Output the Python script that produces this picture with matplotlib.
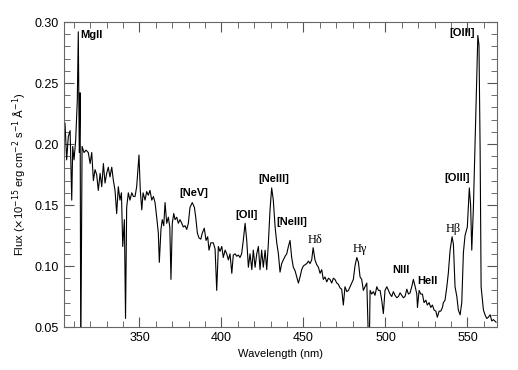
# Optical spectrum with emission line labels
import matplotlib
matplotlib.use('Agg')
import matplotlib.pyplot as plt
from matplotlib.ticker import MultipleLocator

# Wavelength (nm) and flux (1e-15 erg cm^-2 s^-1 A^-1)
wavelength = [
    304.6, 305.6, 306.6, 307.7, 308.7, 309.3, 310.1, 311.1, 312.1, 312.7,
    313.3, 313.8, 314.2, 315.0, 316.2, 317.4, 318.8, 319.9, 320.9, 321.9,
    322.9, 323.9, 324.9, 326.0, 327.0, 328.0, 329.0, 330.0, 331.0, 332.0,
    333.1, 334.1, 335.1, 336.1, 337.1, 338.1, 339.0, 339.8, 340.8, 341.5,
    342.2, 343.2, 344.2, 345.3, 346.3, 347.3, 348.3, 349.7, 350.5, 351.4,
    352.2, 353.4, 354.4, 355.4, 356.4, 357.5, 358.5, 359.5, 360.5, 361.5,
    362.1, 363.1, 363.9, 364.8, 365.6, 366.6, 367.6, 368.5, 369.2, 370.0,
    370.9, 371.7, 372.7, 373.7, 374.7, 375.8, 376.7, 377.8, 378.8, 379.8,
    380.8, 382.2, 383.5, 384.3, 385.3, 386.3, 387.4, 388.3, 389.5, 390.6,
    391.6, 392.4, 393.5, 395.0, 396.1, 397.1, 398.1, 399.1, 400.2, 401.1,
    402.2, 403.2, 404.2, 405.2, 406.3, 407.2, 408.3, 409.3, 410.3, 411.3,
    412.3, 413.3, 414.4, 415.4, 416.4, 417.4, 418.5, 419.4, 420.5, 421.5,
    422.5, 423.5, 424.5, 425.5, 426.6, 427.6, 428.6, 429.6, 430.6, 431.6,
    432.7, 433.7, 434.7, 435.7, 436.7, 437.7, 438.8, 439.8, 440.8, 441.8,
    442.8, 443.8, 444.9, 445.9, 446.9, 447.9, 448.9, 449.9, 451.0, 452.0,
    453.0, 454.0, 455.0, 455.9, 457.0, 458.1, 459.1, 460.1, 461.1, 462.1,
    463.1, 464.2, 465.2, 466.2, 467.2, 468.2, 469.2, 470.3, 471.3, 472.3,
    473.3, 474.3, 475.3, 476.4, 477.4, 478.4, 479.4, 480.4, 481.4, 482.5,
    483.5, 484.5, 485.5, 486.5, 487.5, 488.6, 490.0, 490.6, 491.6, 492.6,
    493.6, 494.7, 495.7, 496.7, 497.7, 498.7, 499.7, 500.8, 501.8, 502.8,
    503.8, 504.8, 505.8, 506.9, 507.9, 508.9, 509.9, 510.9, 511.9, 513.0,
    514.0, 515.0, 516.0, 517.0, 518.1, 519.1, 519.5, 520.5, 521.5, 522.5,
    523.5, 524.6, 525.5, 526.6, 527.6, 528.6, 529.6, 530.7, 531.6, 532.7,
    533.7, 534.7, 535.3, 536.3, 537.4, 538.3, 539.4, 540.6, 541.4, 542.4,
    543.5, 544.4, 545.5, 546.5, 547.5, 548.5, 549.9, 551.1, 551.9, 552.6,
    553.6, 555.0, 556.3, 557.0, 557.7, 558.3, 559.7, 560.7, 561.7, 562.7,
    563.8, 564.8, 565.8, 567.4,
]
flux = [
    0.217, 0.187, 0.206, 0.211, 0.154, 0.198, 0.187, 0.203, 0.236, 0.292,
    0.193, 0.242, 0.020, 0.198, 0.193, 0.195, 0.193, 0.184, 0.193, 0.170,
    0.179, 0.175, 0.162, 0.176, 0.165, 0.184, 0.168, 0.176, 0.181, 0.173,
    0.181, 0.170, 0.162, 0.143, 0.165, 0.154, 0.160, 0.116, 0.138, 0.057,
    0.148, 0.160, 0.154, 0.160, 0.157, 0.157, 0.165, 0.191, 0.162, 0.146,
    0.160, 0.154, 0.161, 0.158, 0.162, 0.154, 0.157, 0.152, 0.140, 0.127,
    0.103, 0.130, 0.138, 0.133, 0.152, 0.135, 0.140, 0.132, 0.089, 0.135,
    0.143, 0.138, 0.140, 0.135, 0.138, 0.135, 0.132, 0.133, 0.130, 0.135,
    0.148, 0.152, 0.148, 0.140, 0.127, 0.123, 0.122, 0.127, 0.131, 0.121,
    0.124, 0.113, 0.119, 0.119, 0.114, 0.080, 0.116, 0.112, 0.116, 0.107,
    0.113, 0.110, 0.105, 0.110, 0.094, 0.109, 0.110, 0.108, 0.109, 0.107,
    0.110, 0.121, 0.135, 0.121, 0.099, 0.110, 0.097, 0.113, 0.099, 0.110,
    0.116, 0.097, 0.113, 0.099, 0.113, 0.097, 0.119, 0.146, 0.164, 0.154,
    0.132, 0.119, 0.110, 0.095, 0.102, 0.105, 0.108, 0.110, 0.116, 0.121,
    0.107, 0.099, 0.096, 0.091, 0.086, 0.091, 0.097, 0.100, 0.101, 0.102,
    0.104, 0.102, 0.105, 0.115, 0.105, 0.101, 0.099, 0.094, 0.097, 0.089,
    0.091, 0.087, 0.090, 0.089, 0.086, 0.090, 0.089, 0.086, 0.085, 0.082,
    0.081, 0.068, 0.083, 0.079, 0.080, 0.083, 0.086, 0.089, 0.100, 0.107,
    0.103, 0.091, 0.089, 0.080, 0.083, 0.086, 0.020, 0.080, 0.077, 0.079,
    0.076, 0.083, 0.080, 0.080, 0.072, 0.061, 0.080, 0.083, 0.080, 0.077,
    0.075, 0.079, 0.076, 0.074, 0.075, 0.078, 0.076, 0.074, 0.075, 0.081,
    0.077, 0.078, 0.083, 0.089, 0.083, 0.077, 0.066, 0.080, 0.077, 0.077,
    0.070, 0.072, 0.068, 0.070, 0.066, 0.068, 0.064, 0.063, 0.058, 0.063,
    0.063, 0.066, 0.070, 0.072, 0.083, 0.094, 0.113, 0.124, 0.118, 0.083,
    0.075, 0.064, 0.060, 0.070, 0.111, 0.125, 0.132, 0.164, 0.150, 0.113,
    0.148, 0.220, 0.289, 0.281, 0.195, 0.083, 0.064, 0.060, 0.057, 0.058,
    0.060, 0.055, 0.056, 0.054,
]

# Line labels: text, wavelength, flux, font style
sans_labels = ['MgII', '[NeV]', '[OII]', '[NeIII]', '[NeIII]', 'NIII', 'HeII', '[OIII]', '[OIII]']
sans_x = [320.6, 383.3, 415.0, 432.0, 443.0, 509.5, 525.3, 543.6, 547.0]
sans_y = [0.289, 0.160, 0.142, 0.171, 0.136, 0.097, 0.088, 0.172, 0.291]
serif_labels = ['H\u03b4', 'H\u03b3', 'H\u03b2']
serif_x = [457.0, 484.5, 541.0]
serif_y = [0.121, 0.114, 0.130]

fig = plt.figure(figsize=(5.18, 3.70), dpi=100)
ax = fig.add_axes([0.1236, 0.1162, 0.8359, 0.8243])

ax.plot(wavelength, flux, color='black', lw=0.8)
ax.set_xlim(304, 568)
ax.set_ylim(0.05, 0.30)

for t, x, y in zip(sans_labels, sans_x, sans_y):
    ax.text(x, y, t, ha='center', va='center', fontsize=8, fontweight='bold',
            family='Liberation Sans')
for t, x, y in zip(serif_labels, serif_x, serif_y):
    ax.text(x, y, t, ha='center', va='center', fontsize=9,
            family='Liberation Serif')

ax.xaxis.set_major_locator(MultipleLocator(50))
ax.xaxis.set_minor_locator(MultipleLocator(10))
ax.yaxis.set_major_locator(MultipleLocator(0.05))
ax.yaxis.set_minor_locator(MultipleLocator(0.01))
ax.yaxis.set_major_formatter(plt.FormatStrFormatter('%.2f'))
ax.tick_params(which='both', direction='in', top=True, right=True, color='#555555')
ax.tick_params(which='major', length=7, labelsize=9)
ax.tick_params(which='minor', length=4)
for lbl in ax.get_xticklabels() + ax.get_yticklabels():
    lbl.set_family('Liberation Sans')
for s in ax.spines.values():
    s.set_color('#666666')

ax.set_xlabel('Wavelength (nm)', fontsize=8, family='Liberation Sans')
ax.set_ylabel(r'Flux ($\times$10$^{-15}$ erg cm$^{-2}$ s$^{-1}$ $\rm\AA^{-1}$)',
              fontsize=8, family='Liberation Sans')

fig.savefig('out.png', dpi=100)
